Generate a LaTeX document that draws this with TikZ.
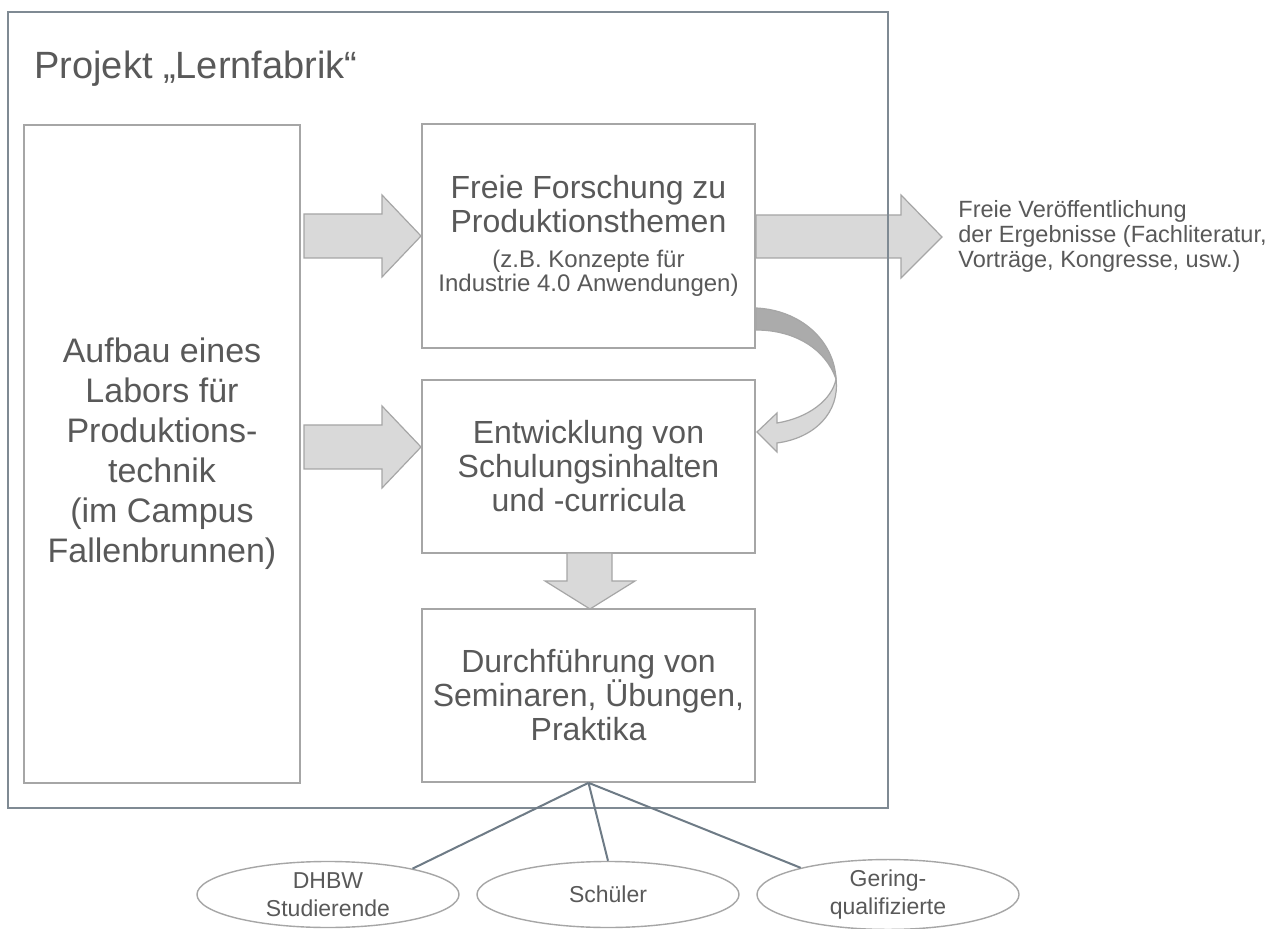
\documentclass[tikz,border=0pt]{standalone}
\usepackage{fontspec}
\setmainfont{Liberation Sans}
\usetikzlibrary{shapes.geometric}
\definecolor{txt}{HTML}{595959}
\definecolor{rahmen}{HTML}{7F8A93}
\definecolor{kante}{HTML}{A6A6A6}
\definecolor{pfeil}{HTML}{D9D9D9}
\definecolor{pfeildunkel}{HTML}{ABABAB}
\definecolor{linie}{HTML}{6E7B86}
\newcommand{\klein}{\fontsize{12}{13}\selectfont}

\begin{document}
\begin{tikzpicture}[x=0.5pt, y=-0.5pt, % 1 Einheit = 1 Pixel, y nach unten
  kasten/.style={draw=kante, line width=0.8pt, text=txt, align=center, inner sep=0pt},
  blockpfeil/.style={fill=pfeil, draw=kante, line width=0.6pt, line join=miter},
  oval/.style={ellipse, draw=kante, line width=0.7pt, minimum width=131pt, minimum height=33pt,
    inner sep=0pt, text=txt, align=center, font=\fontsize{11.5}{14}\selectfont},
  verbinder/.style={draw=linie, line width=1pt}]
  \fill[white] (0,0) rectangle (1278,929); % Hintergrund
  \useasboundingbox (0,0) rectangle (1278,929);

  \node[anchor=base west, inner sep=0pt, text=txt, font=\fontsize{19}{22}\selectfont] (titel) at (34,79) {Projekt „Lernfabrik“}; % Titel

  % Kaesten
  \node[kasten, minimum width=138pt, minimum height=329pt, font=\fontsize{17}{20}\selectfont] (labor) at (162,454)
    {Aufbau eines\\Labors für\\Produktions-\\technik\\(im Campus\\Fallenbrunnen)};
  \node[kasten, minimum width=166.5pt, minimum height=112pt, font=\fontsize{16}{17}\selectfont] (forschung) at (588.5,236)
    {Freie Forschung zu\\Produktionsthemen\\[0.5pt]{\klein (z.B. Konzepte für}\\[-5pt]{\klein Industrie 4.0 Anwendungen)}};
  \node[kasten, minimum width=166.5pt, minimum height=86.5pt, font=\fontsize{16}{17}\selectfont] (schulung) at (588.5,466.5)
    {Entwicklung von\\Schulungsinhalten\\und -curricula};
  \node[kasten, minimum width=166.5pt, minimum height=86.5pt, font=\fontsize{16}{17}\selectfont] (seminar) at (588.5,695.5)
    {Durchführung von\\Seminaren, Übungen,\\Praktika};

  \node[anchor=west, inner sep=0pt, text=txt, align=left, font=\fontsize{11.75}{12.5}\selectfont] (publik) at (958,236)
    {Freie Veröffentlichung\\der Ergebnisse (Fachliteratur,\\Vorträge, Kongresse, usw.)}; % rechts aussen

  % Blockpfeile
  \draw[blockpfeil] (304,214) -- (382,214) -- (382,195) -- (421,236) -- (382,277) -- (382,258) -- (304,258) -- cycle;
  \draw[blockpfeil] (304,425) -- (382,425) -- (382,406) -- (421,447) -- (382,488) -- (382,469) -- (304,469) -- cycle;
  \draw[blockpfeil] (756,215) -- (901,215) -- (901,195) -- (942,237) -- (901,278) -- (901,258) -- (756,258) -- cycle;
  \draw[blockpfeil] (567,553) -- (612,553) -- (612,581) -- (635,581) -- (590,609) -- (545,581) -- (567,581) -- cycle;

  % gebogener Pfeil
  \draw[blockpfeil, fill=pfeildunkel] (756,308) .. controls (800,310) and (834,340) .. (836,379)
    .. controls (826,350) and (796,330) .. (756,330) -- cycle;
  \draw[blockpfeil] (836,379) .. controls (840,412) and (815,438) .. (777,443) -- (777,452) -- (757,432)
    -- (777,413) -- (777,423) .. controls (808,418) and (832,400) .. (836,379) -- cycle;

  \draw[rahmen, line width=1pt] (8,12) rectangle (888,808); % Rahmen

  % Zielgruppen
  \node[oval] (dhbw) at (328,894.5) {DHBW\\Studierende};
  \node[oval] (schueler) at (608,894.5) {Schüler};
  \node[oval] (gering) at (888,894.5) {Gering-\\qualifizierte};
  \draw[verbinder] (seminar.south) -- (dhbw.17);
  \draw[verbinder] (seminar.south) -- (schueler.north);
  \draw[verbinder] (seminar.south) -- (gering.163);
\end{tikzpicture}
\end{document}
